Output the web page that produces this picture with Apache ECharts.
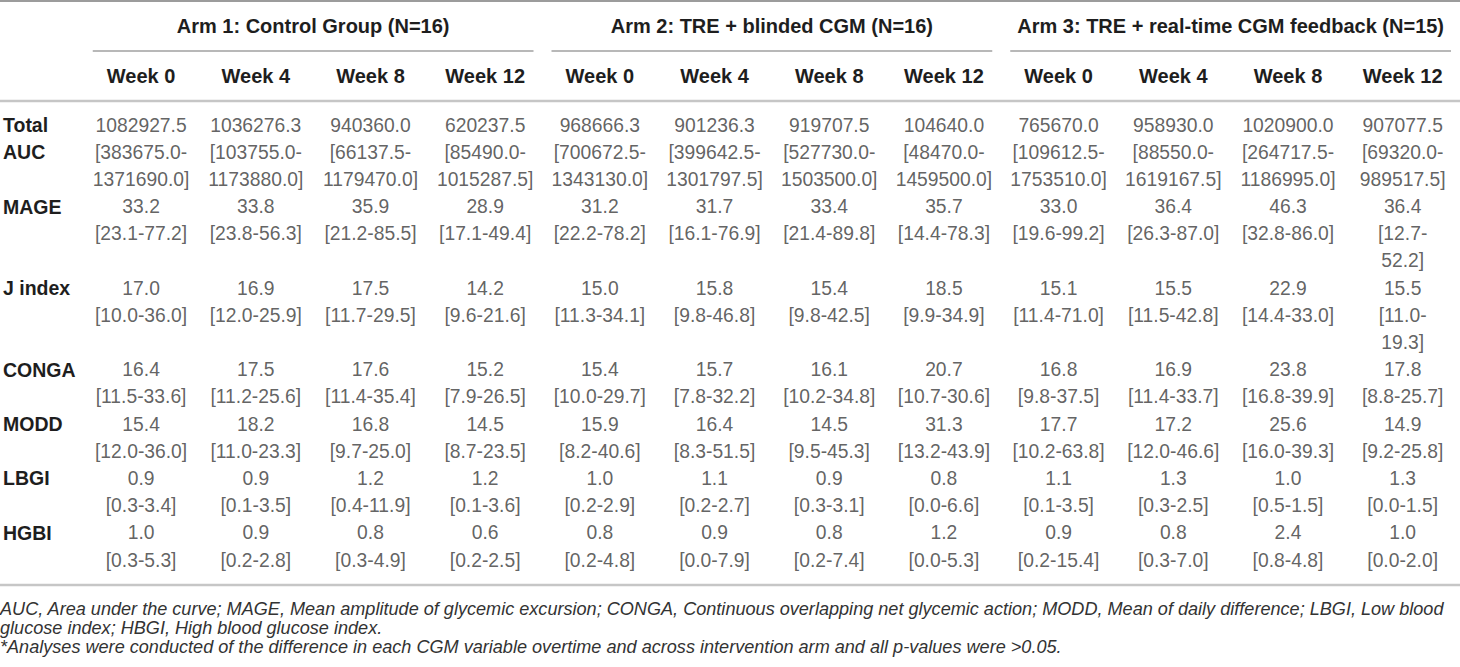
<!DOCTYPE html>
<html>
<head>
<meta charset="utf-8">
<script src="https://cdn.jsdelivr.net/npm/echarts@6/dist/echarts.min.js"></script>
<style>
  html, body { margin: 0; padding: 0; background: #fff; }
  #chart { width: 1460px; height: 667px; }
</style>
</head>
<body>
<div id="chart"></div>
<script>
// ---------------- data ----------------
const arms = ['Arm 1: Control Group (N=16)', 'Arm 2: TRE + blinded CGM (N=16)', 'Arm 3: TRE + real-time CGM feedback (N=15)'];
const weeks = ['Week 0', 'Week 4', 'Week 8', 'Week 12', 'Week 0', 'Week 4', 'Week 8', 'Week 12', 'Week 0', 'Week 4', 'Week 8', 'Week 12'];
const variables = ['Total AUC', 'MAGE', 'J index', 'CONGA', 'MODD', 'LBGI', 'HGBI'];

const aucMedian = [1082927.5, 1036276.3, 940360.0, 620237.5, 968666.3, 901236.3, 919707.5, 104640.0, 765670.0, 958930.0, 1020900.0, 907077.5];
const aucLow    = [383675.0, 103755.0, 66137.5, 85490.0, 700672.5, 399642.5, 527730.0, 48470.0, 109612.5, 88550.0, 264717.5, 69320.0];
const aucHigh   = [1371690.0, 1173880.0, 1179470.0, 1015287.5, 1343130.0, 1301797.5, 1503500.0, 1459500.0, 1753510.0, 1619167.5, 1186995.0, 989517.5];

const mageMedian = [33.2, 33.8, 35.9, 28.9, 31.2, 31.7, 33.4, 35.7, 33.0, 36.4, 46.3, 36.4];
const mageLow    = [23.1, 23.8, 21.2, 17.1, 22.2, 16.1, 21.4, 14.4, 19.6, 26.3, 32.8, 12.7];
const mageHigh   = [77.2, 56.3, 85.5, 49.4, 78.2, 76.9, 89.8, 78.3, 99.2, 87.0, 86.0, 52.2];

const jMedian = [17.0, 16.9, 17.5, 14.2, 15.0, 15.8, 15.4, 18.5, 15.1, 15.5, 22.9, 15.5];
const jLow    = [10.0, 12.0, 11.7, 9.6, 11.3, 9.8, 9.8, 9.9, 11.4, 11.5, 14.4, 11.0];
const jHigh   = [36.0, 25.9, 29.5, 21.6, 34.1, 46.8, 42.5, 34.9, 71.0, 42.8, 33.0, 19.3];

const congaMedian = [16.4, 17.5, 17.6, 15.2, 15.4, 15.7, 16.1, 20.7, 16.8, 16.9, 23.8, 17.8];
const congaLow    = [11.5, 11.2, 11.4, 7.9, 10.0, 7.8, 10.2, 10.7, 9.8, 11.4, 16.8, 8.8];
const congaHigh   = [33.6, 25.6, 35.4, 26.5, 29.7, 32.2, 34.8, 30.6, 37.5, 33.7, 39.9, 25.7];

const moddMedian = [15.4, 18.2, 16.8, 14.5, 15.9, 16.4, 14.5, 31.3, 17.7, 17.2, 25.6, 14.9];
const moddLow    = [12.0, 11.0, 9.7, 8.7, 8.2, 8.3, 9.5, 13.2, 10.2, 12.0, 16.0, 9.2];
const moddHigh   = [36.0, 23.3, 25.0, 23.5, 40.6, 51.5, 45.3, 43.9, 63.8, 46.6, 39.3, 25.8];

const lbgiMedian = [0.9, 0.9, 1.2, 1.2, 1.0, 1.1, 0.9, 0.8, 1.1, 1.3, 1.0, 1.3];
const lbgiLow    = [0.3, 0.1, 0.4, 0.1, 0.2, 0.2, 0.3, 0.0, 0.1, 0.3, 0.5, 0.0];
const lbgiHigh   = [3.4, 3.5, 11.9, 3.6, 2.9, 2.7, 3.1, 6.6, 3.5, 2.5, 1.5, 1.5];

const hgbiMedian = [1.0, 0.9, 0.8, 0.6, 0.8, 0.9, 0.8, 1.2, 0.9, 0.8, 2.4, 1.0];
const hgbiLow    = [0.3, 0.2, 0.3, 0.2, 0.2, 0.0, 0.2, 0.0, 0.2, 0.3, 0.8, 0.0];
const hgbiHigh   = [5.3, 2.8, 4.9, 2.5, 4.8, 7.9, 7.4, 5.3, 15.4, 7.0, 4.8, 2.0];

const footnotes = [
  'AUC, Area under the curve; MAGE, Mean amplitude of glycemic excursion; CONGA, Continuous overlapping net glycemic action; MODD, Mean of daily difference; LBGI, Low blood',
  'glucose index; HBGI, High blood glucose index.',
  '*Analyses were conducted of the difference in each CGM variable overtime and across intervention arm and all p-values were >0.05.'
];

// ---------------- build table lines ----------------
const rowMedians = [aucMedian, mageMedian, jMedian, congaMedian, moddMedian, lbgiMedian, hgbiMedian];
const rowLows = [aucLow, mageLow, jLow, congaLow, moddLow, lbgiLow, hgbiLow];
const rowHighs = [aucHigh, mageHigh, jHigh, congaHigh, moddHigh, lbgiHigh, hgbiHigh];

function wrapRange(text, col) {
  const maxChars = col === weeks.length - 1 ? 10 : 12; // last column is cut by the page edge
  if (text.length <= maxChars) return [text];
  const i = text.indexOf('-') + 1;
  return [text.slice(0, i), text.slice(i)];
}

const cellData = [];
const rowLabelAt = {};
let line = 0;
variables.forEach((name, r) => {
  let rowLines = 1;
  weeks.forEach((w, c) => {
    const med = rowMedians[r][c].toFixed(1);
    const rng = '[' + rowLows[r][c].toFixed(1) + '-' + rowHighs[r][c].toFixed(1) + ']';
    const parts = [med].concat(wrapRange(rng, c));
    parts.forEach((t, k) => cellData.push([c, line + k, t]));
    rowLines = Math.max(rowLines, parts.length);
  });
  const words = name.length > 8 ? name.split(' ') : [name];
  words.forEach((wd, k) => { rowLabelAt[line + k] = wd; });
  line += rowLines;
});
const lastLine = line - 1;

// ---------------- chart ----------------
const FONT = "'Liberation Sans', Arial, Helvetica, sans-serif";
const chart = echarts.init(document.getElementById('chart'), null, { renderer: 'svg' });

const headStyle = { fontFamily: FONT, fontWeight: 'bold', fontSize: 20, color: '#1e1e1e' };
const rowHeadStyle = { fontFamily: FONT, fontWeight: 'bold', fontSize: 19.5, color: '#1e1e1e' };

chart.setOption({
  animation: false,
  backgroundColor: '#ffffff',
  grid: { left: 83.75, right: -22.25, top: 125, bottom: 107, containLabel: false },
  xAxis: [
    {
      type: 'category', data: weeks, position: 'top', boundaryGap: true,
      axisLine: { show: false }, axisTick: { show: false }, splitLine: { show: false },
      axisLabel: Object.assign({ margin: 49, verticalAlign: 'middle', interval: 0 }, headStyle)
    },
    {
      type: 'category', data: arms, position: 'top', boundaryGap: true,
      axisLine: { show: false }, axisTick: { show: false }, splitLine: { show: false },
      axisLabel: Object.assign({ margin: 99, verticalAlign: 'middle', interval: 0 }, headStyle)
    }
  ],
  yAxis: {
    type: 'value', inverse: true, min: 0, max: lastLine, interval: 1,
    axisLine: { show: false }, axisTick: { show: false }, splitLine: { show: false },
    axisLabel: Object.assign({
      align: 'left', margin: 80.75, verticalAlign: 'middle',
      formatter: v => rowLabelAt[v] || ''
    }, rowHeadStyle)
  },
  series: [{
    type: 'scatter',
    xAxisIndex: 0,
    data: cellData,
    symbolSize: 0,
    silent: true,
    label: {
      show: true, position: 'inside', align: 'center', verticalAlign: 'middle',
      formatter: p => p.data[2],
      fontFamily: FONT, fontSize: 19.3, color: '#3a3a3a'
    },
    emphasis: { disabled: true }
  }]
});

// ---------------- table rules & footnotes ----------------
const x0 = chart.convertToPixel({ xAxisIndex: 0 }, 0);
const x1 = chart.convertToPixel({ xAxisIndex: 0 }, 1);
const colW = x1 - x0;
const colLeft = c => x0 - colW / 2 + c * colW;
const W = 1460;

const graphics = [];
function hline(xa, xb, y, w, color) {
  graphics.push({ type: 'line', silent: true, shape: { x1: xa, y1: y, x2: xb, y2: y }, style: { stroke: color, lineWidth: w } });
}
hline(0, W, 1, 2, '#9c9c9c');
arms.forEach((a, i) => {
  const a0 = colLeft(i * 4) + 9;
  const a1 = Math.min(colLeft(i * 4 + 4) - 9, W);
  hline(a0, a1, 51, 1.5, '#a0a0a0');
});
hline(0, W, 101, 2.5, '#c6c6c6');
hline(0, W, 585, 2.5, '#c6c6c6');
const footY = [609, 628, 647];
footnotes.forEach((t, i) => {
  graphics.push({
    type: 'text', silent: true, x: 0, y: footY[i],
    style: { text: t, fontFamily: FONT, fontStyle: 'italic', fontSize: 18.1, fill: '#333333', textVerticalAlign: 'middle', verticalAlign: 'middle' }
  });
});
chart.setOption({ graphic: graphics });
</script>
</body>
</html>
